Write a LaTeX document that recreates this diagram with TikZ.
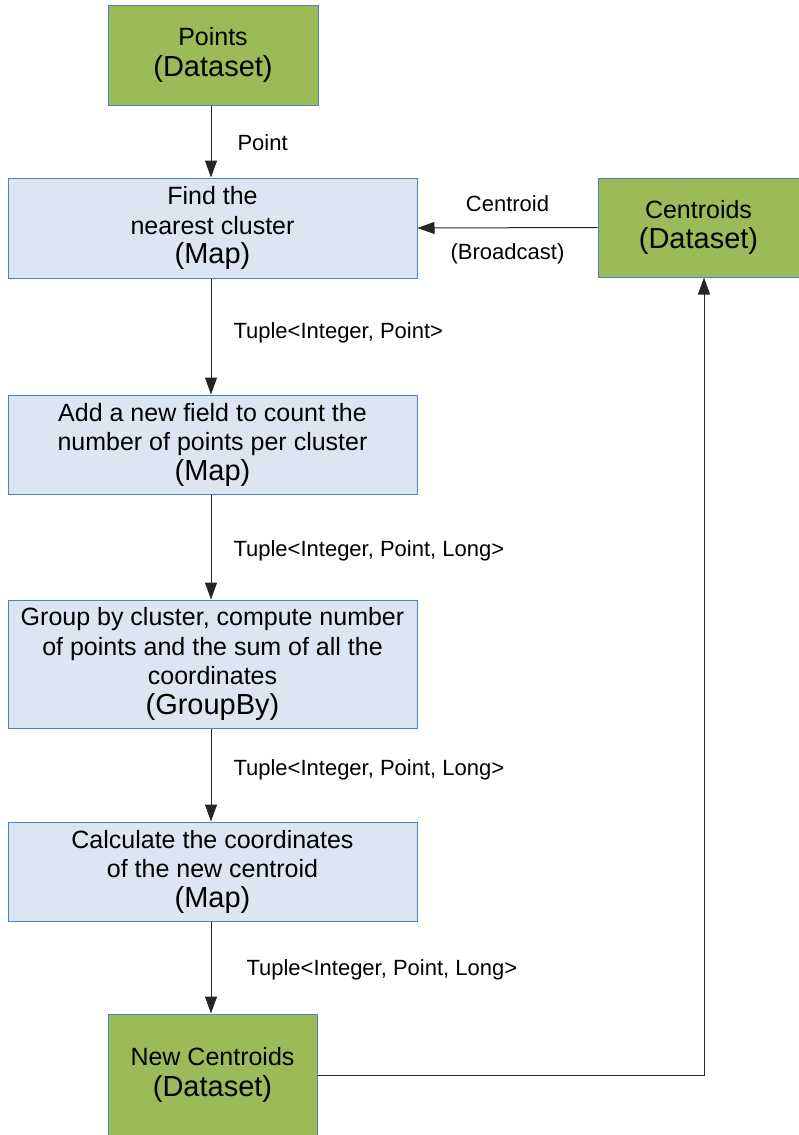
\documentclass[tikz,border=0pt]{standalone}
\usepackage{fontspec}
\setmainfont{Liberation Sans}
\usetikzlibrary{arrows.meta}
\definecolor{dsgreen}{HTML}{9BBB59}
\definecolor{opblue}{HTML}{DCE6F2}
\definecolor{edgeblue}{HTML}{4F81BD}
\begin{document}
\begin{tikzpicture}[x=1pt,y=-1pt,
  dataset/.style={draw=edgeblue, line width=1pt, fill=dsgreen, align=center,
    inner sep=0pt, font=\fontsize{25}{30.5}\selectfont},
  operator/.style={draw=edgeblue, line width=1pt, fill=opblue, align=center,
    inner sep=0pt, minimum width=409pt, font=\fontsize{25}{29.5}\selectfont},
  flow/.style={line width=1pt, draw=black!85, -{Triangle[length=17pt,width=12pt]}},
  lbl/.style={font=\fontsize{22}{26}\selectfont, inner sep=0pt}
]
\useasboundingbox (0,0) rectangle (799,1135);

\newcommand{\optag}[1]{{\fontsize{29}{31}\selectfont #1}}

\node[dataset, minimum width=210pt, minimum height=100pt] (points) at (213,55)
  {Points\\\optag{(Dataset)}};
\node[operator, minimum height=100pt] (nearest) at (212.5,228)
  {Find the\\nearest cluster\\\optag{(Map)}};
\node[dataset, minimum width=201pt, minimum height=99pt] (centroids) at (698.5,227.5)
  {Centroids\\\optag{(Dataset)}};
\node[operator, minimum height=99pt] (count) at (212.5,444.5)
  {Add a new field to count the\\number of points per cluster\\\optag{(Map)}};
\node[operator, minimum height=128pt] (group) at (212.5,664)
  {Group by cluster, compute number\\of points and the sum of all the\\coordinates\\\optag{(GroupBy)}};
\node[operator, minimum height=99pt] (calc) at (212.5,871.5)
  {Calculate the coordinates\\of the new centroid\\\optag{(Map)}};
\node[dataset, minimum width=209pt, minimum height=122pt] (newc) at (212.5,1075)
  {New Centroids\\\optag{(Dataset)}};

\draw[flow] (points.south -| 211,0) -- node[lbl, right, xshift=26pt, pos=0.52] (l1) {Point} (nearest.north -| 211,0);
\draw[flow] (nearest.south -| 211,0) -- node[lbl, right, xshift=22pt, pos=0.47] (l2) {Tuple<Integer, Point>} (count.north -| 211,0);
\draw[flow] (count.south -| 211,0) -- node[lbl, right, xshift=22pt, pos=0.54] (l3) {Tuple<Integer, Point, Long>} (group.north -| 211,0);
\draw[flow] (group.south -| 211,0) -- node[lbl, right, xshift=22pt, pos=0.44] (l4) {Tuple<Integer, Point, Long>} (calc.north -| 211,0);
\draw[flow] (calc.south -| 211,0) -- node[lbl, right, xshift=35pt, pos=0.52] (l5) {Tuple<Integer, Point, Long>} (newc.north -| 211,0);

\draw[flow] (centroids.west) -- node[lbl, above, yshift=16pt] (l6) {Centroid}
  node[lbl, below, yshift=-15pt] (l7) {(Broadcast)} (nearest.east);

\draw[flow] (newc.east) -| ([xshift=5.5pt]centroids.south);
\end{tikzpicture}
\end{document}
